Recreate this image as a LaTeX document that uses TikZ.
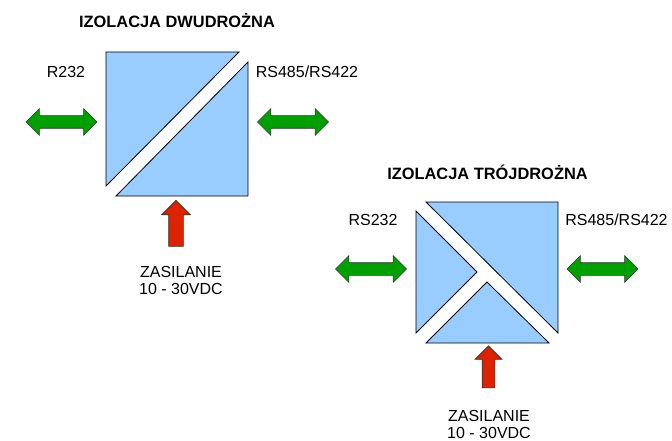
\documentclass[tikz,border=0pt]{standalone}
\usepackage{fontspec}
\setmainfont{Liberation Sans}
\usepackage{tikz}
\usetikzlibrary{shapes.arrows}
\definecolor{blockblue}{RGB}{153,204,255}
\definecolor{arrowgreen}{RGB}{0,160,0}
\definecolor{arrowred}{RGB}{221,34,0}
\tikzset{
  piece/.style = {draw=black,fill=blockblue,line width=0.8pt,line join=miter},
  dataarrow/.style = {double arrow,draw=black!80,fill=arrowgreen,line width=0.6pt,inner xsep=0pt,inner ysep=6pt,minimum width=26pt,minimum height=71pt},
  powerarrow/.style = {single arrow,draw=black!80,fill=arrowred,line width=0.6pt,inner xsep=0pt,rotate=90},
  label/.style = {font=\fontsize{16}{17}\selectfont,inner sep=0pt},
  title/.style = {font=\bfseries\fontsize{16.4}{18}\selectfont,inner sep=0pt}
}

\begin{document}
\begin{tikzpicture}[x=1pt,y=-1pt]
\useasboundingbox (0,0) rectangle (672,441);

% izolacja dwudrozna
\node[title] (t1) at (177,21) {IZOLACJA DWUDROŻNA};
\draw[piece] (106,52) -- (239,52) -- (106,186) -- cycle;
\draw[piece] (116,196) -- (248,196) -- (248,62) -- cycle;
\node[label] (l1) at (66,72) {R232};
\node[label] (r1) at (307,72) {RS485/RS422};
\node[dataarrow] (a1) at (61.5,122) {};
\node[dataarrow] (b1) at (293,122) {};
\node[powerarrow,inner ysep=7pt,minimum width=28pt,minimum height=46pt] (p1) at (176,227) {};
\node[label,align=center] (z1) at (181,280.5) {ZASILANIE\\10 - 30VDC};

% izolacja trojdrozna
\node[title] (t2) at (487.5,172) {IZOLACJA TRÓJDROŻNA};
\draw[piece] (426,202) -- (558,202) -- (558,333) -- cycle;
\draw[piece] (416,211) -- (477,272) -- (416,333) -- cycle;
\draw[piece] (426,343) -- (487,282) -- (549,343) -- cycle;
\node[label] (l2) at (373,220) {RS232};
\node[label] (r2) at (616.5,220) {RS485/RS422};
\node[dataarrow] (a2) at (371,269) {};
\node[dataarrow] (b2) at (602.5,269) {};
\node[powerarrow,inner ysep=6pt,minimum width=25pt,minimum height=42pt] (p2) at (488.5,370) {};
\node[label,align=center] (z2) at (489,424.5) {ZASILANIE\\10 - 30VDC};
\end{tikzpicture}
\end{document}
